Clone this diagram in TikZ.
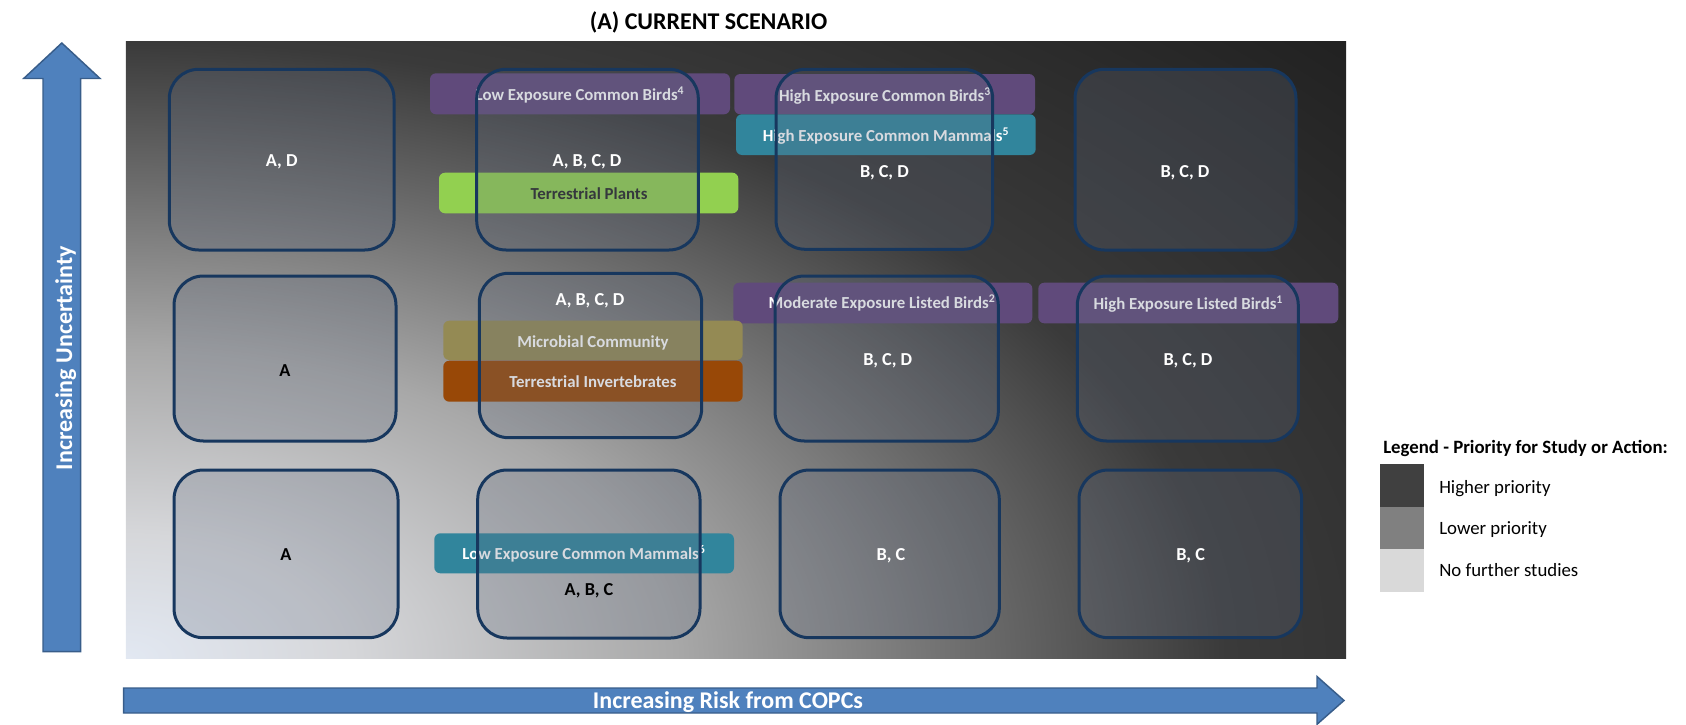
\documentclass[tikz,border=0pt]{standalone}
\usepackage{fontspec}
\setmainfont{Carlito}
\definecolor{cellblue}{RGB}{23,55,94}
\definecolor{cellfill}{RGB}{100,110,130}
\definecolor{birdpurple}{RGB}{96,74,123}
\definecolor{mammalteal}{RGB}{49,133,156}
\definecolor{plantgreen}{RGB}{146,208,80}
\definecolor{microolive}{RGB}{148,138,84}
\definecolor{invertbrown}{RGB}{152,72,7}
\definecolor{arrowblue}{RGB}{79,129,189}
\definecolor{arrowedge}{RGB}{56,93,138}
\definecolor{bglight}{RGB}{226,232,242}
\definecolor{bgpale}{RGB}{214,215,218}
\definecolor{bgmid}{RGB}{168,168,168}
\definecolor{bgdim}{RGB}{110,110,110}
\definecolor{bgdark}{RGB}{58,58,58}
\definecolor{bgdeep}{RGB}{42,42,42}
\definecolor{bgdeepest}{RGB}{26,26,26}
\definecolor{keyhigh}{RGB}{64,64,64}
\definecolor{keylow}{RGB}{128,128,128}
\definecolor{keynone}{RGB}{217,217,217}
\pgfdeclareradialshading{panelglow}{\pgfpoint{0bp}{0bp}}{%
  color(0bp)=(bglight); color(2.5bp)=(bgpale); color(6.25bp)=(bgmid);
  color(9.5bp)=(bgdim); color(12.5bp)=(bgdark); color(16.5bp)=(bgdeep);
  color(20.5bp)=(bgdeepest); color(50bp)=(bgdeepest)}
\begin{document}
\begin{tikzpicture}[x=0.75pt,y=0.75pt,yscale=-1,xscale=1,
  cell/.style={draw=cellblue,line width=2.25pt,rounded corners=22pt,fill=cellfill,fill opacity=0.25},
  bar/.style={rounded corners=4.5pt},
  barlabel/.style={inner sep=0pt,text=white,font=\fontsize{12.6}{15}\selectfont\bfseries,text height=8.1pt,text depth=0pt},
  celllabel/.style={inner sep=0pt,text=white,font=\fontsize{13.7}{16}\selectfont\bfseries,text height=8.8pt,text depth=0pt},
  axisarrow/.style={fill=arrowblue,draw=arrowedge,line width=1.1pt},
  axislabel/.style={inner sep=0pt,text=white,font=\fontsize{18}{21}\selectfont\bfseries,text height=11.6pt,text depth=0pt},
  keylabel/.style={inner sep=0pt,anchor=west,font=\fontsize{14.1}{17}\selectfont,text height=9.1pt,text depth=0pt}]
\useasboundingbox (0,0) rectangle (1686,725);
\node[inner sep=0pt,font=\fontsize{18}{21}\selectfont\bfseries,text height=11.6pt,text depth=0pt] (title) at (708.5,21.5) {(A) CURRENT SCENARIO};
\begin{scope}
\clip (125.8,41.5) rectangle (1346,658.3);
\shade[shading=panelglow] (-2074,-576) rectangle (2326,1892);
\end{scope}
\fill[bar,birdpurple] (430,73.3) rectangle (730,114.3);
\node[barlabel] (lowbirds) at (580,95) {Low Exposure Common Birds\textsuperscript{4}};
\fill[bar,birdpurple] (734.3,74) rectangle (1035,114.3);
\node[barlabel] (highbirds) at (885,95.7) {High Exposure Common Birds\textsuperscript{3}};
\fill[bar,mammalteal] (736,114.3) rectangle (1035.7,155);
\node[barlabel] (highmammals) at (886,136) {High Exposure Common Mammals\textsuperscript{5}};
\fill[bar,plantgreen] (439,172.7) rectangle (738.3,213.3);
\node[barlabel,text=black!85] (plants) at (589,194) {Terrestrial Plants};
\fill[bar,birdpurple] (733.3,282.7) rectangle (1032.3,323.3);
\node[barlabel] (modlisted) at (882,303.3) {Moderate Exposure Listed Birds\textsuperscript{2}};
\fill[bar,birdpurple] (1038.3,282.7) rectangle (1338.3,323.3);
\node[barlabel] (highlisted) at (1188.3,304) {High Exposure Listed Birds\textsuperscript{1}};
\fill[bar,microolive] (443.3,320.7) rectangle (742.7,360);
\node[barlabel] (microbes) at (593,341.7) {Microbial Community};
\fill[bar,invertbrown] (443.3,360.7) rectangle (742.7,401.7);
\node[barlabel] (inverts) at (593,381.7) {Terrestrial Invertebrates};
\fill[bar,mammalteal] (434.3,533.3) rectangle (734,573.3);
\node[barlabel] (lowmammals) at (584,554) {Low Exposure Common Mammals\textsuperscript{6}};
\draw[cell] (169.3,69.3) rectangle (394,250);
\draw[cell] (476.7,69.3) rectangle (698.3,250);
\draw[cell] (776,69.3) rectangle (992.7,249.3);
\draw[cell] (1075,69.3) rectangle (1296,250);
\draw[cell] (174,276) rectangle (396,441);
\draw[cell] (479.3,273.3) rectangle (701.7,437.7);
\draw[cell] (775,276) rectangle (998.3,441);
\draw[cell] (1077.3,276) rectangle (1298.3,441);
\draw[cell] (174,470) rectangle (398,637.7);
\draw[cell] (477.7,470) rectangle (700,638);
\draw[cell] (780,470) rectangle (999.3,637.7);
\draw[cell] (1079,470) rectangle (1301.7,637.7);
\node[celllabel] (r1c1) at (281.7,160.7) {A, D};
\node[celllabel] (r1c2) at (587,160.7) {A, B, C, D};
\node[celllabel] (r1c3) at (884.4,171.7) {B, C, D};
\node[celllabel] (r1c4) at (1185,171.7) {B, C, D};
\node[celllabel,text=black] (r2c1) at (285,371) {A};
\node[celllabel] (r2c2) at (590,300) {A, B, C, D};
\node[celllabel] (r2c3) at (887.7,360) {B, C, D};
\node[celllabel] (r2c4) at (1188,360) {B, C, D};
\node[celllabel,text=black] (r3c1) at (286,555) {A};
\node[celllabel,text=black] (r3c2) at (589,589.3) {A, B, C};
\node[celllabel] (r3c3) at (891,555) {B, C};
\node[celllabel] (r3c4) at (1190.7,555) {B, C};
\draw[axisarrow] (43,651.6) -- (43,78.5) -- (23.7,78.5) -- (61.8,43) -- (100,78.5) -- (80.6,78.5) -- (80.6,651.6) -- cycle;
\node[axislabel,rotate=90] (uncertainty) at (64.5,358) {Increasing Uncertainty};
\draw[axisarrow] (123.7,688) -- (1317,688) -- (1317,676.5) -- (1344,700.5) -- (1317,724.3) -- (1317,713) -- (123.7,713) -- cycle;
\node[axislabel] (risk) at (728,701) {Increasing Risk from COPCs};
\node[keylabel,font=\fontsize{14.1}{17}\selectfont\bfseries] (legendtitle) at (1383,447) {Legend - Priority for Study or Action:};
\fill[keyhigh] (1380,464) rectangle (1424,506.7);
\fill[keylow] (1380,506.7) rectangle (1424,548.7);
\fill[keynone] (1380,548.7) rectangle (1424,591.7);
\node[keylabel] (higher) at (1439,487) {Higher priority};
\node[keylabel] (lower) at (1439,528) {Lower priority};
\node[keylabel] (nofurther) at (1439,570) {No further studies};
\end{tikzpicture}
\end{document}
